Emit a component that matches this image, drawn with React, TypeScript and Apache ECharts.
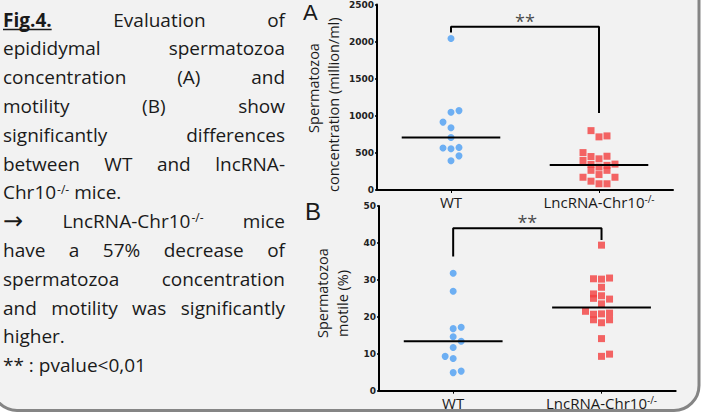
import React, { useEffect, useRef } from 'react';
import * as echarts from 'echarts';

// ---------- data ----------
const categories = ['WT', 'LncRNA-Chr10^-/-'];

// Panel A: spermatozoa concentration (million/ml)
const concTicks = [0, 500, 1000, 1500, 2000, 2500];
const wtConc = [2042, 1048, 1070, 915, 840, 707, 566, 557, 574, 460, 394];
const wtConcJitter = [0, 0, 1, -1, 0, 0, -1, 0, 1, 1, 0];
const koConc = [800, 716, 729, 504, 451, 420, 455, 398, 345, 309, 332, 349, 265, 208, 265, 172, 119, 84, 84, 172];
const koConcJitter = [-1, 0, 1, -2, -1, 0, 1, -2, -1, 0, 1, 2, -1, 0, 1, -2, -1, 0, 1, 2];

// Panel B: spermatozoa motile (%)
const motTicks = [0, 10, 20, 30, 40, 50];
const wtMot = [31.8, 26.9, 16.8, 17.2, 14.6, 13.4, 11.7, 9.3, 8.7, 4.9, 5.3];
const wtMotJitter = [0, 0, 0, 1, 0, 1, 0, -1, 0, 0, 1];
const koMot = [39.4, 30.3, 30.2, 30.5, 28.0, 26.2, 25.0, 25.7, 24.8, 23.5, 21.5, 20.7, 19.2, 20.8, 21.0, 18.4, 19.2, 14.1, 9.3, 9.9];
const koMotJitter = [0, -1, 0, 1, 0, -1, -1, 0, 1, 0, -2, -1, -1, 0, 1, 0, 1, 0, 0, 1];

// significance brackets: [left leg bottom, top, right leg bottom], star label level
const bracketA = [2122, 2201, 1038];
const starsA = 2280;
const bracketB = [36.3, 44.0, 40.8];
const starsB = 45.6;
const sigLabel = '**';

// caption (# = bold underlined, ^ = superscript)
const captionLines: { words: string[]; justify: boolean }[] = [
  { words: ['#Fig.4.', 'Evaluation', 'of'], justify: true },
  { words: ['epididymal', 'spermatozoa'], justify: true },
  { words: ['concentration', '(A)', 'and'], justify: true },
  { words: ['motility', '(B)', 'show'], justify: true },
  { words: ['significantly', 'differences'], justify: true },
  { words: ['between', 'WT', 'and', 'lncRNA-'], justify: true },
  { words: ['Chr10^-/-', 'mice.'], justify: false },
  { words: ['\u2192', 'LncRNA-Chr10^-/-', 'mice'], justify: true },
  { words: ['have', 'a', '57%', 'decrease', 'of'], justify: true },
  { words: ['spermatozoa', 'concentration'], justify: true },
  { words: ['and', 'motility', 'was', 'significantly'], justify: true },
  { words: ['higher.'], justify: false },
  { words: ['**', ':', 'pvalue<0,01'], justify: false },
];

const FONT = '"Open Sans", sans-serif';
const ARROW_FONT = '"DejaVu Sans", sans-serif';
const LETTER_FONT = '"Liberation Sans", sans-serif';
const INK = '#1a1a1a';
const BLUE = '#4b9ef3';
const RED = '#f23f3f';

const STEP = 0.054;
const toPts = (vals: number[], jit: number[], center: number) =>
  vals.map((v, i) => [center + jit[i] * STEP, v]);
const median = (arr: number[]) => {
  const s = [...arr].sort((a, b) => a - b);
  const n = s.length;
  return n % 2 ? s[(n - 1) / 2] : (s[n / 2 - 1] + s[n / 2]) / 2;
};

function buildCaption(): any[] {
  const ctx = document.createElement('canvas').getContext('2d')!;
  const FS = 19;
  const SUP = 12;
  const measure = (t: string, bold: boolean, size: number, fam: string) => {
    ctx.font = `${bold ? 'bold ' : ''}${size}px ${fam}`;
    return ctx.measureText(t).width;
  };
  const X0 = 3;
  const X1 = 285;
  const B0 = 27;
  const LS = 28.8;
  const els: any[] = [];
  const space = measure(' ', false, FS, FONT);
  captionLines.forEach((line, li) => {
    const base = B0 + li * LS;
    const words = line.words.map((w) => {
      const bold = w.startsWith('#');
      const s = bold ? w.slice(1) : w;
      const [main, sup] = s.split('^');
      const isArrow = main === '\u2192';
      const fam = isArrow ? ARROW_FONT : FONT;
      const size = isArrow ? 24 : FS;
      const wm = measure(main, bold, size, fam);
      const ws = sup ? measure(sup, false, SUP, FONT) + 1 : 0;
      return { main, sup, bold, wm, w: wm + ws, fam, size };
    });
    const total = words.reduce((a, w) => a + w.w, 0);
    const gap = line.justify && words.length > 1 ? (X1 - X0 - total) / (words.length - 1) : space;
    let x = X0;
    words.forEach((w) => {
      els.push({
        type: 'text',
        x,
        y: base - 0.388 * FS,
        style: {
          text: w.main,
          fontSize: w.size,
          fontFamily: w.fam,
          fontWeight: w.bold ? 'bold' : 'normal',
          fill: INK,
          align: 'left',
          verticalAlign: 'middle',
        },
      });
      if (w.bold) {
        els.push({
          type: 'line',
          shape: { x1: x, y1: base + 2.5, x2: x + w.wm, y2: base + 2.5 },
          style: { stroke: INK, lineWidth: 1.5 },
        });
      }
      if (w.sup) {
        els.push({
          type: 'text',
          x: x + w.wm + 1,
          y: base - 6 - 0.388 * SUP,
          style: {
            text: w.sup,
            fontSize: SUP,
            fontFamily: FONT,
            fill: INK,
            align: 'left',
            verticalAlign: 'middle',
          },
        });
      }
      x += w.w + gap;
    });
  });
  return els;
}

const catLabel = (v: string) => {
  const [main, sup] = v.split('^');
  return sup ? `{n|${main}}{s|${sup}}` : `{n|${main}}`;
};

function makeCatAxis(gridIndex: number): any {
  return {
    type: 'category',
    gridIndex,
    data: categories,
    boundaryGap: true,
    axisLine: { show: true, lineStyle: { color: '#000', width: 2 } },
    axisTick: { show: true, alignWithLabel: true, interval: 0, length: 3, lineStyle: { color: '#000', width: 1 } },
    axisLabel: {
      show: true,
      interval: 0,
      hideOverlap: false,
      margin: 4,
      formatter: catLabel,
      rich: {
        n: { fontSize: 15, fontFamily: FONT, color: INK, lineHeight: 16 },
        s: { fontSize: 10, fontFamily: FONT, color: INK, lineHeight: 8, verticalAlign: 'top' },
      },
    },
    splitLine: { show: false },
  };
}

function makeValAxisX(gridIndex: number): any {
  return { type: 'value', gridIndex, min: 0, max: 2, show: false };
}

function makeYAxis(gridIndex: number, ticks: number[]): any {
  return {
    type: 'value',
    gridIndex,
    min: ticks[0],
    max: ticks[ticks.length - 1],
    interval: ticks[1] - ticks[0],
    axisLine: { show: true, lineStyle: { color: '#000', width: 2 } },
    axisTick: { show: true, length: 2, lineStyle: { color: '#000', width: 1.5 } },
    axisLabel: {
      margin: 3,
      fontSize: 9,
      fontWeight: 'bold',
      fontFamily: 'DejaVu Sans',
      color: '#222',
      formatter: (v: number) => String(v),
    },
    splitLine: { show: false },
  };
}

function panelSeries(
  xIdx: number,
  yIdx: number,
  wt: number[],
  wtJ: number[],
  ko: number[],
  koJ: number[],
  bracket: number[],
  stars: number
): any[] {
  const mWT = median(wt);
  const mKO = median(ko);
  const half = 0.333;
  const lineBase = {
    type: 'line',
    xAxisIndex: xIdx,
    yAxisIndex: yIdx,
    symbol: 'none',
    lineStyle: { color: '#000', width: 2 },
    z: 3,
  };
  return [
    {
      type: 'scatter',
      xAxisIndex: xIdx,
      yAxisIndex: yIdx,
      symbol: 'circle',
      symbolSize: 7,
      itemStyle: { color: BLUE },
      data: toPts(wt, wtJ, 0.5),
      z: 2,
    },
    {
      type: 'scatter',
      xAxisIndex: xIdx,
      yAxisIndex: yIdx,
      symbol: 'rect',
      symbolSize: 7,
      itemStyle: { color: RED },
      data: toPts(ko, koJ, 1.5),
      z: 2,
    },
    { ...lineBase, data: [[0.5 - half, mWT], [0.5 + half, mWT]] },
    { ...lineBase, data: [[1.5 - half, mKO], [1.5 + half, mKO]] },
    {
      ...lineBase,
      data: [[0.5, bracket[0]], [0.5, bracket[1]], [1.5, bracket[1]], [1.5, bracket[2]]],
    },
    {
      type: 'scatter',
      xAxisIndex: xIdx,
      yAxisIndex: yIdx,
      symbol: 'circle',
      symbolSize: 2,
      itemStyle: { color: 'rgba(0,0,0,0)' },
      data: [[1, stars]],
      label: {
        show: true,
        position: 'inside',
        formatter: sigLabel,
        fontSize: 18,
        fontFamily: FONT,
        color: INK,
      },
      z: 4,
    },
  ];
}

export default function App() {
  const ref = useRef<HTMLDivElement>(null);
  useEffect(() => {
    if (!ref.current) return;
    const chart = echarts.init(ref.current, undefined, { renderer: 'svg' });
    const titleStyle = { fontSize: 14.5, fontFamily: FONT, fill: INK, verticalAlign: 'middle' };
    const option: any = {
      animation: false,
      backgroundColor: 'transparent',
      grid: [
        { left: 377, top: 1.5, width: 296, height: 188.5 },
        { left: 379, top: 206, width: 296.7, height: 184.7 },
      ],
      xAxis: [makeCatAxis(0), makeValAxisX(0), makeCatAxis(1), makeValAxisX(1)],
      yAxis: [makeYAxis(0, concTicks), makeYAxis(1, motTicks)],
      series: [
        ...panelSeries(1, 0, wtConc, wtConcJitter, koConc, koConcJitter, bracketA, starsA),
        ...panelSeries(3, 1, wtMot, wtMotJitter, koMot, koMotJitter, bracketB, starsB),
      ],
      graphic: {
        elements: [
          {
            type: 'rect',
            z: -10,
            shape: { x: -8, y: -30, width: 707, height: 440.5, r: 25 },
            style: { fill: '#f2f2f2', stroke: '#858585', lineWidth: 3 },
          },
          ...buildCaption(),
          {
            type: 'text',
            x: 303,
            y: 12.8,
            style: { text: 'A', fontSize: 22, fontFamily: LETTER_FONT, fill: INK, align: 'left', verticalAlign: 'middle' },
          },
          {
            type: 'text',
            x: 305,
            y: 220 - 0.347 * 24,
            style: { text: 'B', fontSize: 24, fontFamily: LETTER_FONT, fill: INK, align: 'left', verticalAlign: 'middle' },
          },
          {
            type: 'text',
            x: 313.4,
            y: 88,
            rotation: Math.PI / 2,
            style: { ...titleStyle, text: 'Spermatozoa', align: 'center' },
          },
          {
            type: 'text',
            x: 333.4,
            y: 192,
            rotation: Math.PI / 2,
            style: { ...titleStyle, text: 'concentration (million/ml)', align: 'left' },
          },
          {
            type: 'text',
            x: 322,
            y: 338,
            rotation: Math.PI / 2,
            style: { ...titleStyle, text: 'Spermatozoa', align: 'left' },
          },
          {
            type: 'text',
            x: 342.4,
            y: 337,
            rotation: Math.PI / 2,
            style: { ...titleStyle, text: 'motile (%)', align: 'left' },
          },
        ],
      },
    };
    chart.setOption(option);
    return () => chart.dispose();
  }, []);
  return (
    <div
      ref={ref}
      style={{ position: 'absolute', left: 0, top: 0, width: 701, height: 417 }}
    />
  );
}
